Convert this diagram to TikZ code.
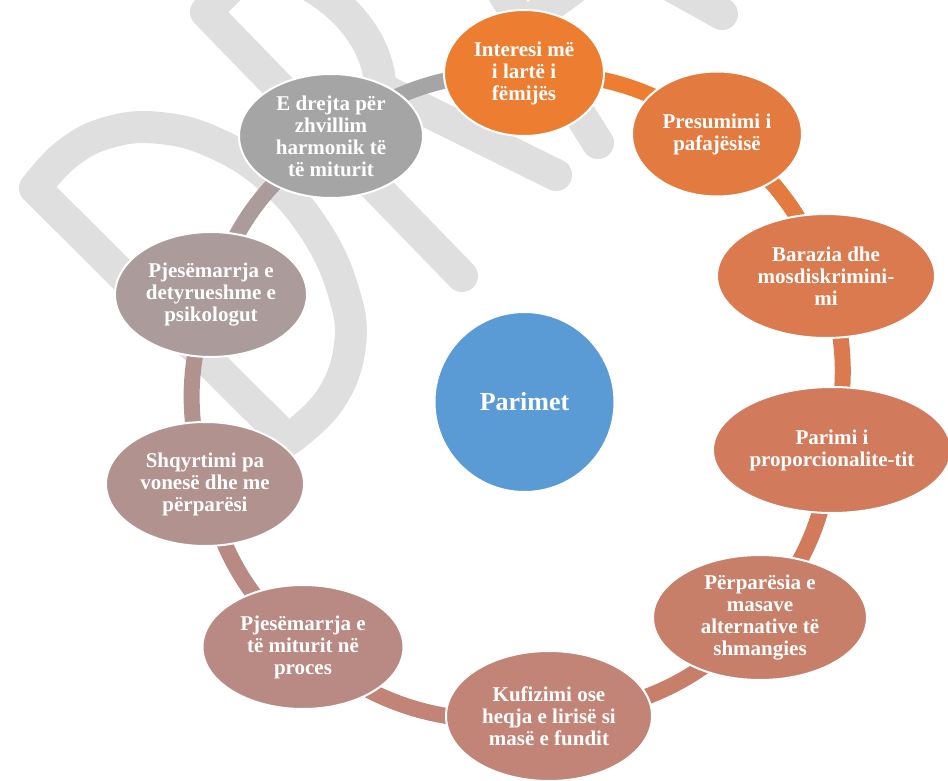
\documentclass[tikz,border=0pt]{standalone}
\usepackage{fontspec}
\setmainfont{Liberation Serif}
\usetikzlibrary{shapes.geometric}
\definecolor{c1}{HTML}{ED7D31}
\definecolor{c2}{HTML}{E37A3F}
\definecolor{c3}{HTML}{DA7A4E}
\definecolor{c4}{HTML}{D17B5C}
\definecolor{c5}{HTML}{C87F69}
\definecolor{c6}{HTML}{C18476}
\definecolor{c7}{HTML}{B98A83}
\definecolor{c8}{HTML}{B2928F}
\definecolor{c9}{HTML}{AC9B9B}
\definecolor{c10}{HTML}{A5A5A5}
\definecolor{wmgray}{HTML}{DFDFDF}
\definecolor{centerblue}{HTML}{5B9BD5}
\pgfdeclarelayer{wmlayer}
\pgfdeclarelayer{connlayer}
\pgfsetlayers{wmlayer,connlayer,main}
\begin{document}
\begin{tikzpicture}[x=1pt,y=-1pt,
  pnode/.style={ellipse, draw=white, line width=2pt, inner sep=0pt, text=white,
    align=center, font=\bfseries\fontsize{21}{22}\selectfont},
  conn/.style={line width=16pt},
  wm/.style={draw=wmgray, line width=32pt, line cap=round, line join=round}]
\useasboundingbox (0,0) rectangle (948,781);

% nodes
\node[pnode, fill=centerblue, minimum width=180, minimum height=180,
  font=\bfseries\fontsize{26}{28}\selectfont] (c) at (524.5,402) {Parimet};
\node[pnode, fill=c1, minimum width=160, minimum height=126] (n1) at (524,73) {Interesi më\\i lartë i\\fëmijës};
\node[pnode, fill=c2, minimum width=170, minimum height=125] (n2) at (717,134) {Presumimi i\\pafajësisë};
\node[pnode, fill=c3, minimum width=218, minimum height=124] (n3) at (826,276) {Barazia dhe\\mosdiskrimini-\\mi};
\node[pnode, fill=c4, minimum width=238, minimum height=126] (n4) at (832,450) {Parimi i\\proporcionalite-tit};
\node[pnode, fill=c5, minimum width=214, minimum height=125] (n5) at (760,617.5) {Përparësia e\\masave\\alternative të\\shmangies};
\node[pnode, fill=c6, minimum width=206, minimum height=130] (n6) at (549,716) {Kufizimi ose\\heqja e lirisë si\\masë e fundit};
\node[pnode, fill=c7, minimum width=201, minimum height=124] (n7) at (303,647) {Pjesëmarrja e\\të miturit në\\proces};
\node[pnode, fill=c8, minimum width=198, minimum height=124] (n8) at (205,484) {Shqyrtimi pa\\vonesë dhe me\\përparësi};
\node[pnode, fill=c9, minimum width=192, minimum height=125] (n9) at (211,294.5) {Pjesëmarrja e\\detyrueshme e\\psikologut};
\node[pnode, fill=c10, minimum width=184, minimum height=124] (n10) at (331,136) {E drejta për\\zhvillim\\harmonik të\\të miturit};

% connectors (drawn centre to centre, under the nodes)
\begin{pgfonlayer}{connlayer}
\draw[conn, c1] (n1.center) to[bend left=18] (n2.center);
\draw[conn, c2] (n2.center) to[bend left=16] (n3.center);
\draw[conn, c3] (n3.center) to[bend left=15.5] (n4.center);
\draw[conn, c4] (n4.center) to[bend left=16.5] (n5.center);
\draw[conn, c5] (n5.center) to[bend left=21] (n6.center);
\draw[conn, c6] (n6.center) to[bend left=23] (n7.center);
\draw[conn, c7] (n7.center) to[bend left=17] (n8.center);
\draw[conn, c8] (n8.center) to[bend left=17] (n9.center);
\draw[conn, c9] (n9.center) to[bend left=18] (n10.center);
\draw[conn, c10] (n10.center) to[bend left=18] (n1.center);
\end{pgfonlayer}

% watermark
\begin{pgfonlayer}{wmlayer}
\draw[wm] (35,188) -- (288,440) -- plot[smooth, tension=0.7] coordinates {(288,440) (330,400) (350,345) (343,290) (315,230) (270,178) (215,143) (160,128) (110,132) (68,153) (35,188)} -- cycle;
\draw[wm] (462,276) -- (206,12) -- (250,-32) .. controls (280,-38) and (372,5) .. (380,82) .. controls (382,115) and (360,135) .. (332,143);
\draw[wm] (380,88) -- (556,175);
\draw[wm] (598,143) -- (495,-20);
\draw[wm] (722,14) -- (598,-55);
\draw[wm] (530,20) -- (585,-20);
\end{pgfonlayer}
\end{tikzpicture}
\end{document}
